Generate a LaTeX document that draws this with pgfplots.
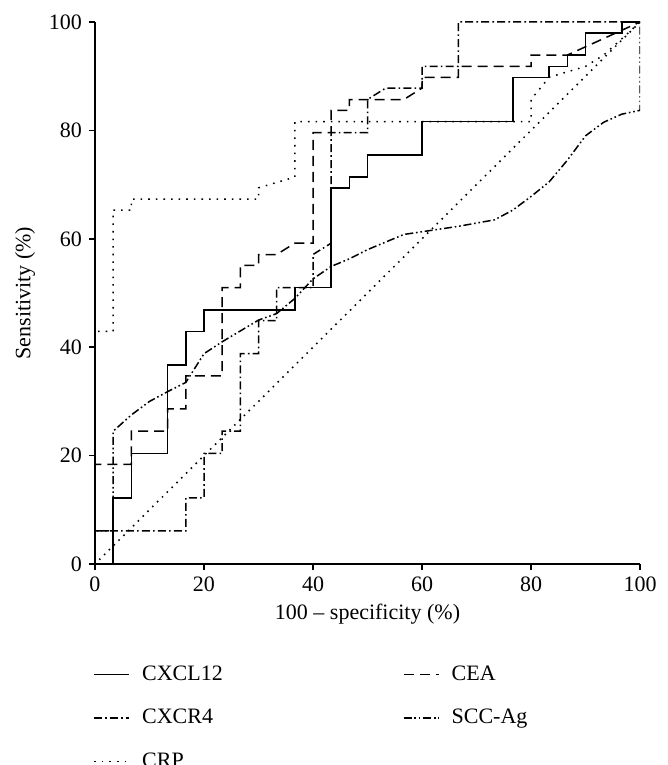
\documentclass[border=0pt]{standalone}
\usepackage{fontspec}
\setmainfont{Liberation Serif}
\usepackage{pgfplots}
\pgfplotsset{compat=1.18}
\usetikzlibrary{calc}

\begin{document}
\begin{tikzpicture}
\begin{axis}[
    scale only axis,
    width=272.5pt, height=271pt,
    xmin=0, xmax=100, ymin=0, ymax=100,
    axis lines=left,
    axis line style={-, line width=0.8pt},
    xtick={0,20,...,100}, ytick={0,20,...,100},
    tick align=outside,
    major tick length=3pt,
    tick style={black, line width=0.8pt},
    font=\fontsize{11}{13}\selectfont,
    /pgf/number format/assume math mode=true,
    xlabel={100 – specificity (\%)},
    ylabel={Sensitivity (\%)},
    xlabel style={yshift=1pt},
    every axis plot/.append style={black, line width=0.75pt},
    legend columns=2,
    legend cell align=left,
    legend style={draw=none, at={(0,-0.172)}, anchor=north west, xshift=-4pt,
        font=\fontsize{11}{13}\selectfont, row sep=9pt,
        /tikz/every odd column/.append style={column sep=4pt},
        /tikz/every even column/.append style={column sep=88pt}},
    legend image code/.code={\draw[#1] (0cm,0cm) -- (0.62cm,0cm);},
]
% CXCL12
\addplot[solid] coordinates {
(0,0) (3.33,0) (3.33,12.2) (6.67,12.2) (6.67,20.4) (13.33,20.4) (13.33,36.7)
(16.67,36.7) (16.67,42.9) (20,42.9) (20,46.9) (36.67,46.9) (36.67,51.0)
(43.33,51.0) (43.33,69.4) (46.67,69.4) (46.67,71.4) (50,71.4) (50,75.5)
(60,75.5) (60,81.6) (76.67,81.6) (76.67,89.8) (83.33,89.8) (83.33,91.8)
(86.67,91.8) (86.67,93.9) (90,93.9) (90,98.0) (96.67,98.0) (96.67,100) (100,100)
};
\addlegendentry{CXCL12}
% CEA
\addplot[dash pattern=on 5pt off 3pt] coordinates {
(0,0) (0,18.4) (6.67,18.4) (6.67,24.5) (13.33,24.5) (13.33,28.6) (16.67,28.6)
(16.67,34.7) (23.33,34.7) (23.33,51.0) (26.67,51.0) (26.67,55.1) (30,55.1)
(30,57.1) (33.33,57.1) (36.67,59.2) (40,59.2) (40,79.6) (43.33,79.6)
(43.33,83.7) (46.67,83.7) (46.67,85.7) (56.67,85.7) (60,87.8) (60,89.8)
(66.67,89.8) (66.67,91.8) (80,91.8) (80,93.9) (86.67,93.9) (100,100)
};
\addlegendentry{CEA}
% CXCR4
\addplot[dash pattern=on 4pt off 1.6pt on 0.8pt off 1.6pt] coordinates {
(0,0) (0,6.1) (16.67,6.1) (16.67,12.2) (20,12.2) (20,20.4) (23.33,20.4)
(23.33,24.5) (26.67,24.5) (26.67,38.8) (30,38.8) (30,44.9) (33.33,44.9)
(33.33,51.0) (40,51.0) (40,57.1) (43.33,59.2) (43.33,79.6) (50,79.6)
(50,85.7) (53.33,87.8) (60,87.8) (60,91.8) (66.67,91.8) (66.67,100) (100,100)
};
\addlegendentry{CXCR4}
% SCC-Ag
\addplot[dash pattern=on 4pt off 1.4pt on 0.8pt off 1.4pt on 0.8pt off 1.4pt] coordinates {
(0,0) (0,6.1) (3.33,6.1) (3.33,24.5) (6.67,27.5) (10,30.0) (13.33,31.8)
(16.67,33.5) (20,38.8) (23.33,41.0) (26.67,43.0) (30,45.0) (33.33,46.2)
(36.67,49.0) (40,52.6) (43.33,54.9) (46.67,56.3) (50,58.0) (56.67,60.8)
(60,61.3) (66.67,62.3) (73.33,63.5) (76.67,65.3) (80,67.8) (83.33,70.5)
(86.67,74.5) (90,79.0) (93.33,81.5) (96.67,83.0) (100,83.7) (100,100)
};
\addlegendentry{SCC-Ag}
% CRP
\addplot[dash pattern=on 0.8pt off 3pt] coordinates {
(0,0) (0,42.9) (3.33,42.9) (3.33,65.3) (6.67,65.3) (6.67,67.3) (30,67.3)
(30,69.4) (36.67,71.4) (36.67,81.6) (80,81.6) (80,85.7) (83.33,89.8)
(90,91.8) (93.33,93.9) (96.67,96.9) (100,100)
};
\addlegendentry{CRP}
% reference diagonal
\addplot[line width=1.1pt, line cap=round, dash pattern=on 0pt off 3.4pt, forget plot] coordinates {
(0,0) (100,100)
};
\end{axis}
\pgfresetboundingbox
\path[use as bounding box] ($(current axis.south west)+(-47.5pt,-100.5pt)$)
    rectangle ($(current axis.north east)+(14pt,11pt)$);
\end{tikzpicture}
\end{document}
